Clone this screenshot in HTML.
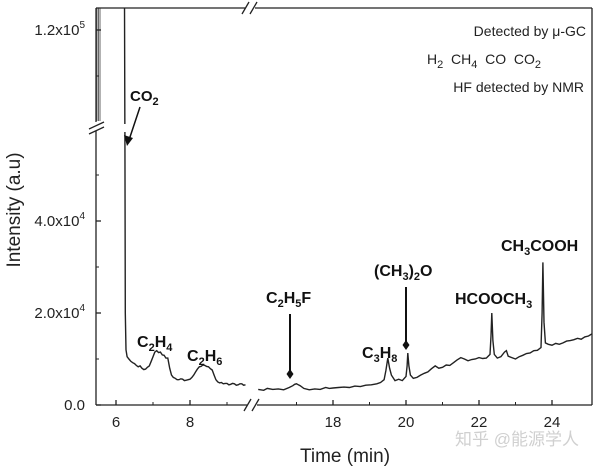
<!DOCTYPE html>
<html><head><meta charset="utf-8">
<style>
html,body{margin:0;padding:0;background:#fff;width:600px;height:471px;overflow:hidden;}
svg{display:block;font-family:"Liberation Sans","Noto Sans CJK SC",sans-serif;}
.tk{fill:#222;}
.an{font-weight:bold;fill:#111;}
</style></head>
<body>
<svg id="chart" width="600" height="471" viewBox="0 0 600 471" xmlns="http://www.w3.org/2000/svg">
<defs>
<clipPath id="clipLo"><rect x="96" y="132" width="496" height="273"/></clipPath>
<clipPath id="clipUp"><rect x="96" y="8" width="496" height="116"/></clipPath>
</defs>
<g id="marks"></g>
<g id="axes"></g>
</svg>
<script>
// ---- data ----
const seg1Times = [6.22,6.23,6.24,6.25,6.27,6.3,6.35,6.4,6.45,6.5,6.55,6.6,6.65,6.7,6.75,6.8,6.85,6.9,6.95,7.0,7.05,7.1,7.15,7.2,7.25,7.3,7.35,7.4,7.45,7.5,7.55,7.6,7.65,7.7,7.75,7.8,7.85,7.9,7.95,8.0,8.05,8.1,8.15,8.2,8.25,8.3,8.35,8.4,8.45,8.5,8.55,8.6,8.65,8.7,8.75,8.8,8.85,8.9,8.95,9.0,9.05,9.1,9.15,9.2,9.25,9.3,9.35,9.4,9.45,9.5];
const seg1Vals  = [140,135,60,20,12,10.5,10,9.5,9.2,9,8.6,8.3,8.5,8,7.7,7.8,8.2,8.5,9.5,10.5,11.5,11.8,11.4,11.5,10.9,10.8,10.2,10.2,8,6.5,6.0,5.8,5.5,5.5,5.7,5.6,5.3,5.4,5.5,5.6,6.0,6.5,7.2,7.8,8.3,8.4,8.7,8.6,8.4,8.3,7.9,7.6,6.5,5.5,5.0,4.8,4.9,4.6,4.7,4.7,4.4,4.5,4.7,4.6,4.3,4.4,4.6,4.6,4.3,4.4];
const seg2Times = [15.95,16.1,16.2,16.35,16.5,16.65,16.8,16.9,16.95,17.0,17.05,17.1,17.2,17.35,17.5,17.65,17.8,17.9,18.0,18.15,18.3,18.45,18.6,18.75,18.9,19.05,19.2,19.3,19.4,19.45,19.5,19.55,19.6,19.7,19.8,19.9,20.0,20.03,20.05,20.08,20.12,20.2,20.3,20.4,20.5,20.6,20.7,20.8,20.9,21.0,21.1,21.2,21.3,21.4,21.5,21.6,21.7,21.8,21.9,22.0,22.1,22.2,22.3,22.33,22.35,22.38,22.42,22.5,22.6,22.7,22.75,22.8,22.9,23.0,23.1,23.2,23.3,23.4,23.5,23.6,23.7,23.73,23.75,23.78,23.82,23.9,24.0,24.1,24.2,24.3,24.4,24.5,24.6,24.7,24.8,24.9,25.0,25.1];
const seg2Vals  = [3.4,3.2,3.6,3.4,3.5,3.3,3.8,4.2,4.5,4.6,4.4,4.2,3.6,3.3,3.5,3.4,3.8,3.6,3.7,3.8,3.9,3.8,4.1,4.0,4.3,4.4,4.6,4.9,5.5,7.5,10.2,8,6.5,5.3,5.6,5.3,6.2,8.5,11.3,8.5,6.5,5.8,6.0,6.5,6.9,7.2,7.9,8.5,8.0,8.2,8.7,8.6,9.2,9.8,10.3,10.0,9.6,9.9,10.0,10.3,10.1,10.2,11,15,20,14,11,10.2,10.5,11.5,11.8,10.6,10.3,10.0,10.5,10.8,11.2,11.3,11.8,11.9,12.5,20,31,18,13.5,13.2,13.0,13.4,13.2,13.5,13.9,14.0,14.2,14.5,14.3,14.8,15.0,15.5];
const xTicks1 = [6,8];
const xTicks2 = [18,20,22,24];
const yTicksLo = [0,20000,40000];
const yTickLabelsLo = ["0.0","2.0x10","4.0x10"];
const yTickExpLo = ["","4","4"];
const yTicksUp = [120000];

// ---- scales ----
function x1(t){return 116 + (t-6)*37;}
function x2(t){return 333 + (t-18)*36.5;}
function yLo(v){return 405 - v*0.0046;}
function yUp(v){return 30 + (120000-v)*0.0046;}
// clamped versions for drawing inside clipped panels (keep geometry within frame)
function yLoC(v){return Math.max(120, yLo(v));}
function yUpC(v){return Math.min(140, Math.max(0, yUp(v)));}
const NS="http://www.w3.org/2000/svg";
function el(tag,attrs,parent){const e=document.createElementNS(NS,tag);for(const k in attrs)e.setAttribute(k,attrs[k]);parent.appendChild(e);return e;}
const marks=document.getElementById('marks');
const axes=document.getElementById('axes');

function tracePts(times,vals,xf,yf){return times.map((t,i)=>xf(t).toFixed(1)+","+yf(vals[i]*1000).toFixed(1)).join(" ");}
const gLo=el('g',{'clip-path':'url(#clipLo)'},marks);
const gUp=el('g',{'clip-path':'url(#clipUp)'},marks);
let p=el('polyline',{points:tracePts(seg1Times,seg1Vals,x1,yLoC),fill:'none',stroke:'#222','stroke-width':1.4},gLo);


p=el('polyline',{points:tracePts(seg1Times,seg1Vals,x1,yUpC),fill:'none',stroke:'#222','stroke-width':1.4},gUp);


p=el('polyline',{points:tracePts(seg2Times,seg2Vals,x2,yLoC),fill:'none',stroke:'#222','stroke-width':1.4},gLo);


[97,98.5,100].forEach(x=>{const l=el('line',{x1:x,y1:8,x2:x,y2:121,stroke:'#666','stroke-width':1},marks);

});

// ---- axes frame ----
function line(a,b,c,d,w){return el('line',{x1:a,y1:b,x2:c,y2:d,stroke:'#222','stroke-width':w||1.3},axes);}
let fr;
fr=line(96,8,245,8);
fr=line(255,8,592,8);
fr=line(592,8,592,405);
fr=line(96,405,247,405);
fr=line(257,405,592,405);
fr=line(96,8,96,122);
fr=line(96,131,96,405);
fr=line(242,14,249,2);
line(250,14,257,2);
fr=line(244,411,251,399);
line(252,411,259,399);
fr=line(89,129,104,122);
line(89,134,104,127);

function xt(x,lab){line(x,405,x,400);if(lab!==undefined){const t=el('text',{x:x,y:427,'text-anchor':'middle',class:'tk'},axes);t.style.fontSize='15px';t.textContent=lab;

}}
xTicks1.forEach(t=>xt(x1(t),String(t)));
[7,9].forEach(t=>line(x1(t),405,x1(t),402,1));
xTicks2.forEach(t=>xt(x2(t),String(t)));
[17,19,21,23].forEach(t=>line(x2(t),405,x2(t),402,1));
yTicksLo.forEach((v,i)=>{const y=yLo(v);line(96,y,101,y);
const t=el('text',{x:85,y:y+5,'text-anchor':'end',class:'tk'},axes);
t.style.fontSize='15px';


t.textContent=yTickLabelsLo[i];
if(yTickExpLo[i]){const s=el('tspan',{dy:-7},t);s.style.fontSize='10px';s.textContent=yTickExpLo[i];}});
[10000,30000,50000].forEach(v=>line(96,yLo(v),99,yLo(v),1));
yTicksUp.forEach(v=>{const y=yUp(v);line(96,y,101,y);
const t=el('text',{x:85,y:y+5,'text-anchor':'end',class:'tk'},axes);
t.style.fontSize='15px';


t.textContent='1.2x10';const s=el('tspan',{dy:-7},t);s.style.fontSize='10px';s.textContent='5';});
line(96,yUp(110000),99,yUp(110000),1);
</script>
<script>
(function(){
const NS="http://www.w3.org/2000/svg";const svg=document.getElementById('chart');
function T(x,y,html,name,cls,anchor,fs){const t=document.createElementNS(NS,'text');t.setAttribute('x',x);t.setAttribute('y',y);t.setAttribute('class',cls||'an');t.setAttribute('text-anchor',anchor||'start');t.style.fontSize=(fs||15)+'px';t.innerHTML=html;


svg.appendChild(t);return t;}
const sub='<tspan dy="4" style="font-size:11px">';
T(130,101,'CO'+sub+'2</tspan>','co2-label');
T(137,347,'C'+sub+'2</tspan><tspan dy="-4">H</tspan>'+sub+'4</tspan>','c2h4-label',null,null,16);
T(187,361,'C'+sub+'2</tspan><tspan dy="-4">H</tspan>'+sub+'6</tspan>','c2h6-label',null,null,16);
T(266,303,'C'+sub+'2</tspan><tspan dy="-4">H</tspan>'+sub+'5</tspan><tspan dy="-4">F</tspan>','c2h5f-label',null,null,16);
T(362,358,'C'+sub+'3</tspan><tspan dy="-4">H</tspan>'+sub+'8</tspan>','c3h8-label',null,null,16);
T(374,276,'(CH'+sub+'3</tspan><tspan dy="-4">)</tspan>'+sub+'2</tspan><tspan dy="-4">O</tspan>','dimethyl-ether-label',null,null,16);
T(455,304,'HCOOCH'+sub+'3</tspan>','methyl-formate-label',null,null,16);
T(501,251,'CH'+sub+'3</tspan><tspan dy="-4">COOH</tspan>','acetic-acid-label',null,null,16);
T(586,36,'Detected by μ-GC','legend-line-1','tk','end',14);
T(484,64,'H'+sub+'2</tspan><tspan dy="-4" xml:space="preserve">  CH</tspan>'+sub+'4</tspan><tspan dy="-4" xml:space="preserve">  CO  CO</tspan>'+sub+'2</tspan>','legend-line-2','tk','middle',14);
T(584,92,'HF detected by NMR','legend-line-3','tk','end',14);
T(345,462,'Time (min)','x-axis-title','tk','middle',19);
const yl=T(20,210,'Intensity (a.u)','y-axis-title','tk','middle',19);yl.setAttribute('transform','rotate(-90 20 210)');
const wm=T(455,445,'知乎 @能源学人','watermark','tk','start',17);wm.style.fill='#d0d0d0';
function L(a,b,c,d,name,w){const l=document.createElementNS(NS,'line');l.setAttribute('x1',a);l.setAttribute('y1',b);l.setAttribute('x2',c);l.setAttribute('y2',d);l.setAttribute('stroke','#111');l.setAttribute('stroke-width',w||2);


svg.appendChild(l);}
L(140,107,129,140,'co2-arrow-shaft',1.5);
const ah=document.createElementNS(NS,'polygon');ah.setAttribute('points','127,146 124,135 133,138');ah.setAttribute('fill','#111');


svg.appendChild(ah);
L(290,314,290,372,'c2h5f-marker-line');
L(406,287,406,345,'dme-marker-line');
[[290,374],[406,345]].forEach(([x,y])=>{const d=document.createElementNS(NS,'polygon');d.setAttribute('points',`${x},${y-5} ${x+3.5},${y} ${x},${y+5} ${x-3.5},${y}`);d.setAttribute('fill','#111');


svg.appendChild(d);});
})();
</script>
</body></html>
